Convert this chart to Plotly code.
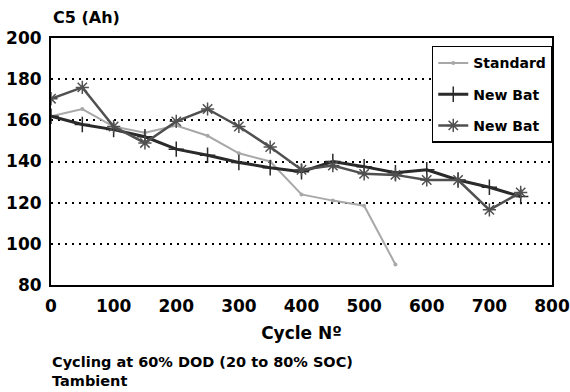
import plotly.graph_objects as go

cycles = [0, 50, 100, 150, 200, 250, 300, 350, 400, 450, 500, 550, 600, 650, 700, 750]
standard = [162, 165.5, 157, 154, 157.5, 152.5, 144, 140, 124, 121, 118.5, 90]
new_bat_plus = [162, 158, 155.5, 152, 146, 143, 139.5, 137, 135, 140, 137.5, 134.5, 136, 131, 127.5, 123]
new_bat_star = [170.5, 176, 157, 149, 159.5, 165.5, 157, 147, 136, 138, 134, 133.5, 131, 131, 116.5, 125]

x_ticks = [0, 100, 200, 300, 400, 500, 600, 700, 800]
y_ticks = [80, 100, 120, 140, 160, 180, 200]

FONT = "DejaVu Sans"

fig = go.Figure()
fig.add_trace(go.Scatter(
    x=cycles[:len(standard)], y=standard, name="Standard", mode="lines+markers",
    line=dict(color="#a8a8a8", width=2),
    marker=dict(symbol="circle", size=4, color="#a8a8a8"),
    legendgroup="a"))
fig.add_trace(go.Scatter(
    x=cycles, y=new_bat_plus, name="New Bat", mode="lines+markers",
    line=dict(color="#2a2a2a", width=3),
    marker=dict(symbol="cross-thin-open", size=11, line=dict(color="#2a2a2a", width=1.5)),
    legendgroup="b"))
fig.add_trace(go.Scatter(
    x=cycles, y=new_bat_star, name="New Bat", mode="lines+markers",
    line=dict(color="#505050", width=2.5),
    marker=dict(symbol="asterisk-open", size=11, line=dict(color="#505050", width=1.5)),
    legendgroup="c"))

fig.update_layout(
    width=570, height=392,
    margin=dict(l=51, r=18, t=38, b=107),
    paper_bgcolor="white", plot_bgcolor="white",
    font=dict(family=FONT, color="black"),
    showlegend=True,
    legend=dict(
        x=0.76, y=0.968, xanchor="left", yanchor="top",
        bgcolor="white", bordercolor="black", borderwidth=1.5,
        font=dict(family=FONT, size=14, weight="bold"),
        tracegroupgap=10, itemwidth=30,
    ),
)
fig.update_xaxes(
    range=[0, 800], tickvals=x_ticks, ticktext=[str(v) for v in x_ticks],
    showgrid=False, zeroline=False, automargin=False,
    showline=True, mirror=True, linecolor="black", linewidth=2,
    ticks="", ticklabelstandoff=5,
    tickfont=dict(family=FONT, size=17, weight="bold"),
    title=dict(text="Cycle Nº", font=dict(family=FONT, size=17, weight="bold"), standoff=12),
)
fig.update_yaxes(
    range=[80, 200], tickvals=y_ticks, ticktext=[str(v) for v in y_ticks],
    showgrid=True, gridcolor="black", gridwidth=1.5, griddash="2px,5px",
    zeroline=False, automargin=False,
    showline=True, mirror=True, linecolor="black", linewidth=2,
    ticks="", ticklabelstandoff=4,
    tickfont=dict(family=FONT, size=17, weight="bold"),
)

fig.add_annotation(text="C5 (Ah)", xref="paper", yref="paper", x=0.0, y=1.085,
                   xanchor="left", yanchor="middle", showarrow=False,
                   font=dict(family=FONT, size=16, weight="bold"))
fig.add_annotation(text="Cycling at 60% DOD (20 to 80% SOC)", xref="paper", yref="paper",
                   x=-0.002, y=(285 - 362) / 247, xanchor="left", yanchor="middle", showarrow=False,
                   font=dict(family=FONT, size=14.5, weight="bold"))
fig.add_annotation(text="Tambient", xref="paper", yref="paper",
                   x=-0.002, y=(285 - 381) / 247, xanchor="left", yanchor="middle", showarrow=False,
                   font=dict(family=FONT, size=14.5, weight="bold"))

fig.write_html("out.html")
